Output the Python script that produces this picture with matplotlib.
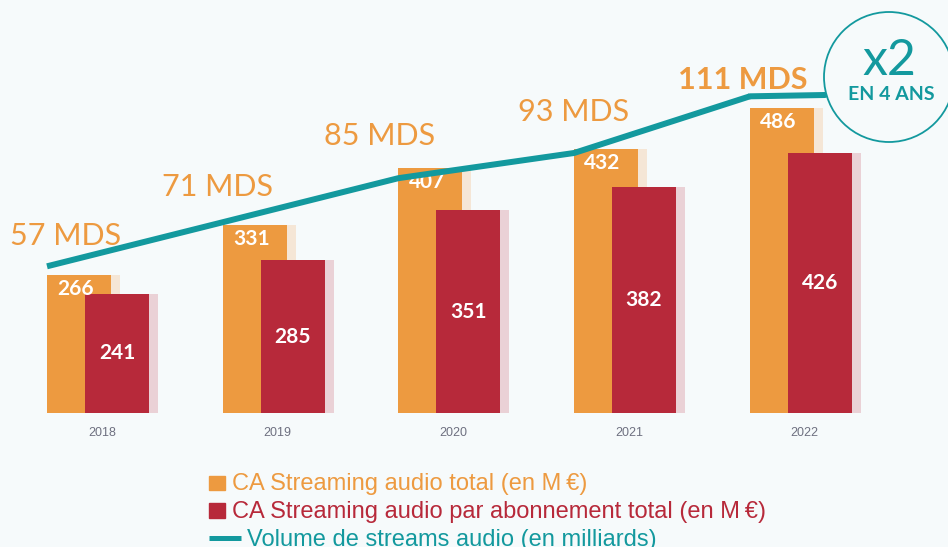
#!/usr/bin/env python3
"""Streaming audio revenue and stream volume, 2018-2022."""

import matplotlib
matplotlib.use('Agg')
import matplotlib.pyplot as plt
from matplotlib.patches import Circle, Rectangle
from matplotlib.lines import Line2D

years = ['2018', '2019', '2020', '2021', '2022']
ca_total = [266, 331, 407, 432, 486]
ca_abonnement = [241, 285, 351, 382, 426]
streams_mds = [57, 71, 85, 93, 111]

legend_labels = [
    'CA Streaming audio total (en M\u2009\u20ac)',
    'CA Streaming audio par abonnement total (en M\u2009\u20ac)',
    'Volume de streams audio (en milliards)',
]

BG = '#f6fafb'
ORANGE = '#ed9a40'
ORANGE_SHADOW = '#f5e6d6'
RED = '#b7293a'
RED_SHADOW = '#ead1d6'
TEAL = '#13999e'
TICK_GREY = '#6e7080'

W, H, DPI = 948, 547, 100
PX = 72 / DPI  # points per pixel

fig = plt.figure(figsize=(W / DPI, H / DPI), dpi=DPI)
fig.patch.set_facecolor(BG)

# axes spans the whole width, baseline of the bars at y=413 px
ax = fig.add_axes([0, (H - 413) / H, 1, 413 / H])
ax.set_facecolor('none')
ax.set_xlim(-0.5805, 4.815)
y_bottom = 84
ax.set_ylim(y_bottom, 628)

bar_w = 0.364
shadow = 0.051
x = list(range(len(years)))
x_or = [i - 0.313 for i in x]
x_red = [i - 0.097 for i in x]

# light "shadow" bars behind each bar
ax.bar([v + shadow for v in x_or], ca_total, width=bar_w, align='edge',
       color=ORANGE_SHADOW, zorder=1)
ax.bar(x_or, ca_total, width=bar_w, align='edge', color=ORANGE, zorder=2)
ax.bar([v + shadow for v in x_red], ca_abonnement, width=bar_w, align='edge',
       color=RED_SHADOW, zorder=3)
ax.bar(x_red, ca_abonnement, width=bar_w, align='edge', color=RED, zorder=4)

for xo, xr, vo, vr in zip(x_or, x_red, ca_total, ca_abonnement):
    ax.annotate(str(vo), (xo + bar_w / 2 - 0.02, vo), xytext=(0, -14 * PX),
                textcoords='offset points', ha='center', va='center',
                color='white', fontsize=15, fontweight='bold', family='Lato',
                zorder=6)
    ax.text(xr + bar_w / 2, (vr + y_bottom) / 2, str(vr), ha='center',
            va='center', color='white', fontsize=15, fontweight='bold',
            family='Lato', zorder=6)

ax.set_xticks(x)
ax.set_xticklabels(years, color=TICK_GREY, fontsize=9,
                   family=['Liberation Sans Narrow', 'Liberation Sans'])
ax.tick_params(axis='x', length=0, pad=10)
ax.set_yticks([])
for spine in ax.spines.values():
    spine.set_visible(False)

# stream volume on its own scale
ax2 = ax.twinx()
ax2.set_ylim(10.4, 141.6)
ax2.axis('off')
ax2.plot(x_or, streams_mds, color=TEAL, linewidth=6 * PX,
         solid_capstyle='butt', solid_joinstyle='round', zorder=5)

label_offsets = [(19, 30), (-5, 35), (-19, 42), (-1, 41), (-7, 16)]
for i, (xv, v) in enumerate(zip(x_or, streams_mds)):
    dx, dy = label_offsets[i]
    last = i == len(streams_mds) - 1
    ax2.annotate(f'{v} MDS', (xv, v), xytext=(dx * PX, dy * PX),
                 textcoords='offset points', ha='center', va='center',
                 color=ORANGE, fontsize=22, family='Lato',
                 fontweight='bold' if last else 'normal')

# "x2" badge
cx, cy, r = 889, 77, 65
badge = Circle((cx / DPI, (H - cy) / DPI), r / DPI,
               transform=fig.dpi_scale_trans, facecolor=BG,
               edgecolor=TEAL, linewidth=1.3, zorder=10)
fig.add_artist(badge)
# line runs on into the badge
ax2.annotate('', xy=(cx - r + 1, H - 95), xycoords='figure pixels',
             xytext=(x_or[-1], streams_mds[-1]), textcoords='data',
             arrowprops=dict(arrowstyle='-', color=TEAL, lw=6 * PX,
                             shrinkA=0, shrinkB=0), zorder=5)
fig.text(cx / W, 1 - 61 / H, 'x2', ha='center', va='center', color=TEAL,
         fontsize=36, family='Lato', fontweight='normal', zorder=11)
fig.text((cx + 2) / W, 1 - 95 / H, 'EN 4 ANS', ha='center', va='center',
         color=TEAL, fontsize=14, family='Lato', fontweight='bold', zorder=11)

# legend drawn by hand
fig.add_artist(Rectangle((209 / W, 1 - 490 / H), 16 / W, 14 / H,
                         transform=fig.transFigure, color=ORANGE))
fig.add_artist(Rectangle((209 / W, 1 - 518 / H), 16 / W, 15 / H,
                         transform=fig.transFigure, color=RED))
fig.add_artist(Line2D([209 / W, 241 / W], [1 - 538 / H, 1 - 538 / H],
                      transform=fig.transFigure, color=TEAL, lw=5 * PX,
                      solid_capstyle='butt'))
rows_base = [490, 518, 546]
text_x = [232, 232, 247]
for label, color, tx, ty in zip(legend_labels, [ORANGE, RED, TEAL], text_x, rows_base):
    fig.text(tx / W, 1 - ty / H, label, ha='left', va='baseline', color=color,
             fontsize=17, family=['Liberation Sans', 'DejaVu Sans'])

fig.savefig('out.png', dpi=DPI, facecolor=BG)
